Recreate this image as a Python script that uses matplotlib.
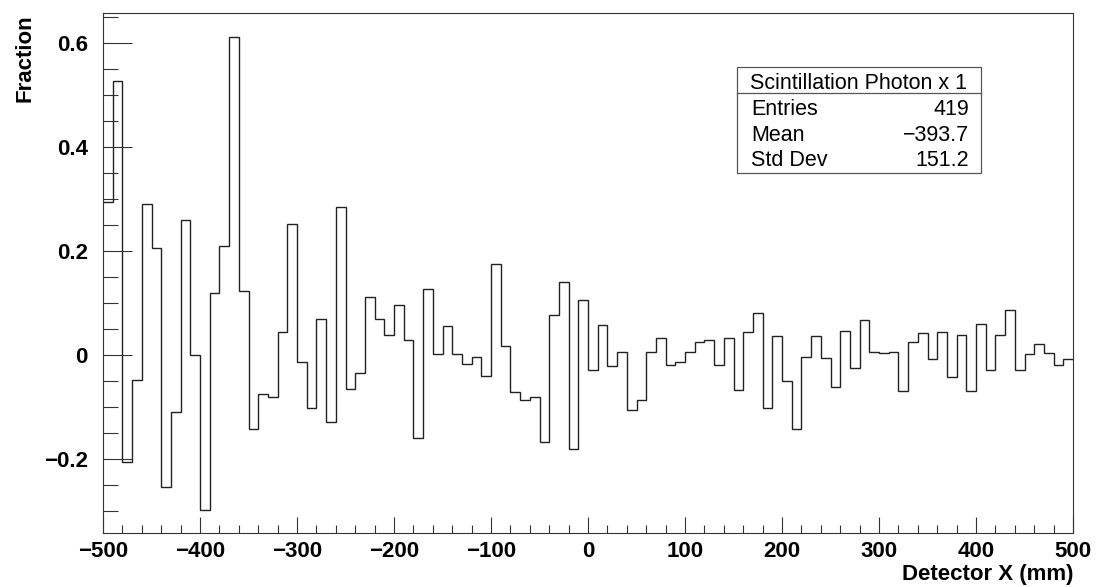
import numpy as np
import matplotlib
matplotlib.use("Agg")
import matplotlib.pyplot as plt
from matplotlib.ticker import MultipleLocator
from matplotlib.patches import Rectangle

plt.rcParams['font.family'] = ['Liberation Sans', 'DejaVu Sans']

# bin contents, 100 bins of 10 mm from -500 to 500
x_lo, x_hi, n_bins = -500, 500, 100
fraction = [
    0.294, 0.527, -0.206, -0.048, 0.291, 0.206, -0.254, -0.109, 0.259, 0.000,
    -0.298, 0.120, 0.209, 0.612, 0.124, -0.142, -0.074, -0.080, 0.045, 0.252,
    -0.014, -0.102, 0.070, -0.128, 0.284, -0.066, -0.034, 0.111, 0.070, 0.038,
    0.097, 0.029, -0.159, 0.128, 0.002, 0.056, 0.002, -0.017, -0.003, -0.040,
    0.176, 0.017, -0.070, -0.086, -0.080, -0.167, 0.078, 0.141, -0.180, 0.106,
    -0.029, 0.058, -0.021, 0.007, -0.106, -0.086, 0.006, 0.033, -0.019, -0.014,
    0.006, 0.025, 0.030, -0.019, 0.033, -0.067, 0.044, 0.082, -0.102, 0.037,
    -0.049, -0.142, -0.003, 0.037, -0.006, -0.062, 0.047, -0.024, 0.067, 0.006,
    0.005, 0.006, -0.069, 0.026, 0.043, -0.008, 0.045, -0.042, 0.039, -0.069,
    0.060, -0.029, 0.039, 0.086, -0.028, 0.002, 0.022, 0.005, -0.019, -0.008,
]

stats_title = "Scintillation Photon x 1"
stats_names = ["Entries", "Mean", "Std Dev"]
stats_values = ["419", "\u2212393.7", "151.2"]

W, H = 1096, 587
fig = plt.figure(figsize=(W / 100, H / 100), dpi=100)
ax = fig.add_axes([103 / W, 1 - 533 / H, (1073 - 103) / W, (533 - 13) / H])

edges = np.linspace(x_lo, x_hi, n_bins + 1)
ax.stairs(fraction, edges, baseline=None, color="#222222", linewidth=1.0)

ax.set_xlim(x_lo, x_hi)
ax.set_ylim(-0.342, 0.658)

ax.xaxis.set_major_locator(MultipleLocator(100))
ax.xaxis.set_minor_locator(MultipleLocator(20))
ax.yaxis.set_major_locator(MultipleLocator(0.2))
ax.yaxis.set_minor_locator(MultipleLocator(0.05))

ax.tick_params(axis="both", which="both", direction="in", top=False, right=False,
               width=0.8, color="#333333")
ax.tick_params(axis="x", which="major", length=11.5, pad=6)
ax.tick_params(axis="x", which="minor", length=5.8)
ax.tick_params(axis="y", which="major", length=21, pad=11)
ax.tick_params(axis="y", which="minor", length=10.5)

ax.set_yticks([-0.2, 0, 0.2, 0.4, 0.6])
ax.set_yticklabels(["\u22120.2", "0", "0.2", "0.4", "0.6"])
for lab in ax.get_xticklabels() + ax.get_yticklabels():
    lab.set_fontsize(16)
    lab.set_fontweight("bold")

for sp in ax.spines.values():
    sp.set_linewidth(0.8)
    sp.set_color("#333333")

fig.text(25 / W, 1 - 14 / H, "Fraction", rotation=90, ha="center", va="top",
         fontsize=16, fontweight="bold")
fig.text(1073 / W, 1 - 580 / H, "Detector X (mm)", ha="right", va="baseline",
         fontsize=16, fontweight="bold")

# stats box
bx0, bx1, by0, by1, bsep = 737, 981, 67, 173, 93
fig.patches.append(Rectangle((bx0 / W, 1 - by1 / H), (bx1 - bx0) / W, (by1 - by0) / H,
                             transform=fig.transFigure, facecolor="white",
                             edgecolor="#555555", linewidth=0.9, zorder=5))
fig.add_artist(plt.Line2D([bx0 / W, bx1 / W], [1 - bsep / H, 1 - bsep / H],
                          transform=fig.transFigure, color="#555555", linewidth=0.9, zorder=6))
fig.text((bx0 + bx1) / 2 / W, 1 - 89 / H, stats_title, ha="center", va="baseline",
         fontsize=15.5, zorder=7)
row_base = [115, 141, 166]
for name, val, yb in zip(stats_names, stats_values, row_base):
    fig.text(751 / W, 1 - yb / H, name, ha="left", va="baseline", fontsize=15.5, zorder=7)
    fig.text(969 / W, 1 - yb / H, val, ha="right", va="baseline", fontsize=15.5, zorder=7)

fig.savefig("out.png", dpi=100)
